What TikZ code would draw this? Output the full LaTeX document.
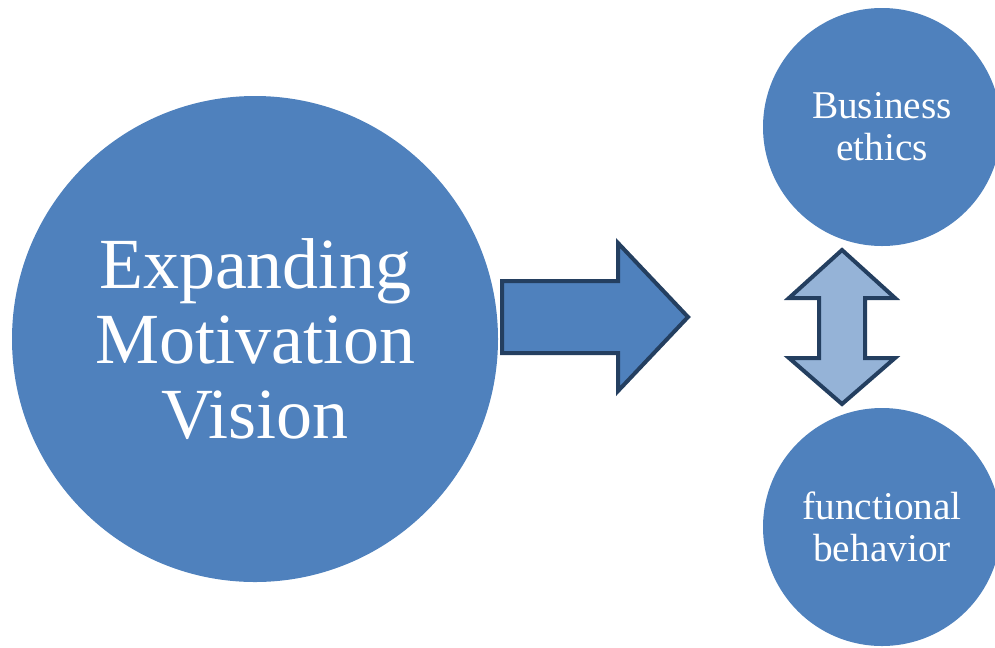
\documentclass[tikz,border=0pt]{standalone}
\usepackage{fontspec}
\setmainfont{Liberation Serif}
\usepackage{xcolor}
\definecolor{highlightcolorc}{HTML}{4F81BD}
\definecolor{edgecolorc}{HTML}{243F60}
\colorlet{washedcolorc}{highlightcolorc!60!white}
\colorlet{highlightcolor}{highlightcolorc}
\colorlet{edgecolor}{edgecolorc}
\colorlet{washedcolor}{washedcolorc}
\tikzstyle{bigcircle} =[
    circle,
    fill=highlightcolor,
    text=white,
    align=center,
    inner sep=0pt,
    minimum size=364.5pt,
    font=\fontsize{54}{56.25}\selectfont
    ]
\tikzstyle{smallcircle} =[
    bigcircle,
    minimum size=178.5pt,
    font=\fontsize{29.5}{31.5}\selectfont
    ]
\tikzstyle{blockarrow} =[
    draw=edgecolor,
    fill=highlightcolor,
    line width=3pt,
    line join=miter
    ]

\begin{document}
\begin{tikzpicture}[x=0.75pt,y=-0.75pt]
\clip (0,0) rectangle (995,647);
\node [bigcircle] (vision) at (255,339) {Expanding\\Motivation\\Vision};
\node [smallcircle] (ethics) at (882,127) {Business\\ethics};
\node [smallcircle] (behavior) at (882,527) {functional\\behavior};
% arrow out of the big circle
\draw [blockarrow] (502,281) -- (618,281) -- (618,243) -- (688,317)
    -- (618,391) -- (618,353) -- (502,353) -- cycle;
% two-way arrow between the small circles
\draw [blockarrow, fill=washedcolor] (842,250) -- (895,298) -- (865,298)
    -- (865,358) -- (895,358) -- (842,404) -- (789,358) -- (819,358)
    -- (819,298) -- (789,298) -- cycle;
\end{tikzpicture}
\end{document}
